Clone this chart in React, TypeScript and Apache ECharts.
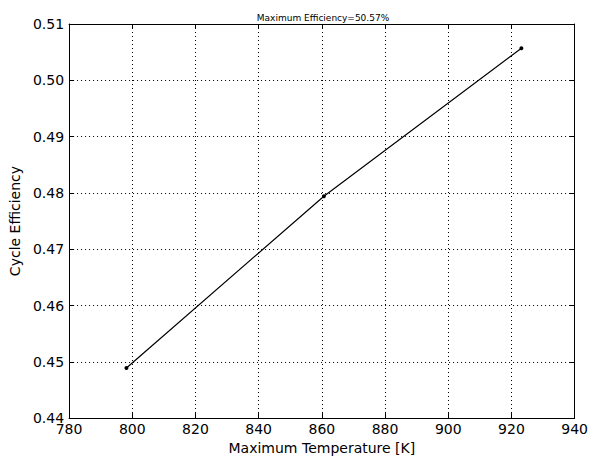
import React, { useEffect, useRef } from "react";
import * as echarts from "echarts";

const temperatures = [798.15, 860.65, 923.15];
const efficiencies = [0.4489, 0.4794, 0.5057];
const titleText = "Maximum Efficiency=50.57%";
const xName = "Maximum Temperature [K]";
const yName = "Cycle Efficiency";

const FONT = "DejaVu Sans";

export default function App() {
  const ref = useRef<HTMLDivElement>(null);
  useEffect(() => {
    if (!ref.current) return;
    const chart = echarts.init(ref.current, null, { renderer: "svg" });
    const data = temperatures.map((t, i) => [t, efficiencies[i]]);
    const gridStyle = { show: true, lineStyle: { color: "#000", type: [1, 3] as any, width: 1 } };
    const tick = { show: true, inside: true, length: 5, lineStyle: { color: "#000", width: 1 } };
    const line = { show: true, lineStyle: { color: "#000", width: 1 } };
    chart.setOption({
      animation: false,
      backgroundColor: "#fff",
      title: {
        text: titleText,
        left: 318,
        top: 8,
        textAlign: "center",
        textStyle: { fontFamily: FONT, fontSize: 9, fontWeight: "normal", color: "#000" },
      },
      grid: { left: 62, right: 16, top: 24, bottom: 39 },
      xAxis: [
        {
          type: "value",
          min: 780,
          max: 940,
          interval: 20,
          position: "bottom",
          name: xName,
          nameLocation: "middle",
          nameGap: 22,
          nameTextStyle: { fontFamily: FONT, fontSize: 14, color: "#000" },
          axisLine: line,
          axisTick: tick,
          splitLine: gridStyle,
          axisLabel: { fontFamily: FONT, fontSize: 14, color: "#000", margin: 4 },
        },
        {
          type: "value",
          min: 780,
          max: 940,
          interval: 20,
          position: "top",
          axisLine: line,
          axisTick: tick,
          splitLine: { show: false },
          axisLabel: { show: false },
        },
      ],
      yAxis: [
        {
          type: "value",
          min: 0.44,
          max: 0.51,
          interval: 0.01,
          position: "left",
          name: yName,
          nameLocation: "middle",
          nameGap: 44,
          nameTextStyle: { fontFamily: FONT, fontSize: 14, color: "#000" },
          axisLine: line,
          axisTick: tick,
          splitLine: gridStyle,
          axisLabel: {
            fontFamily: FONT,
            fontSize: 14,
            color: "#000",
            margin: 5,
            formatter: (v: number) => v.toFixed(2),
          },
        },
        {
          type: "value",
          min: 0.44,
          max: 0.51,
          interval: 0.01,
          position: "right",
          axisLine: line,
          axisTick: tick,
          splitLine: { show: false },
          axisLabel: { show: false },
        },
      ],
      series: [
        {
          type: "line",
          data,
          xAxisIndex: 0,
          yAxisIndex: 0,
          symbol: "circle",
          symbolSize: 4,
          itemStyle: { color: "#000" },
          lineStyle: { color: "#000", width: 1.2 },
        },
      ],
    });
    return () => chart.dispose();
  }, []);
  return <div ref={ref} style={{ width: 591, height: 460, position: "absolute", left: 0, top: 0 }} />;
}
